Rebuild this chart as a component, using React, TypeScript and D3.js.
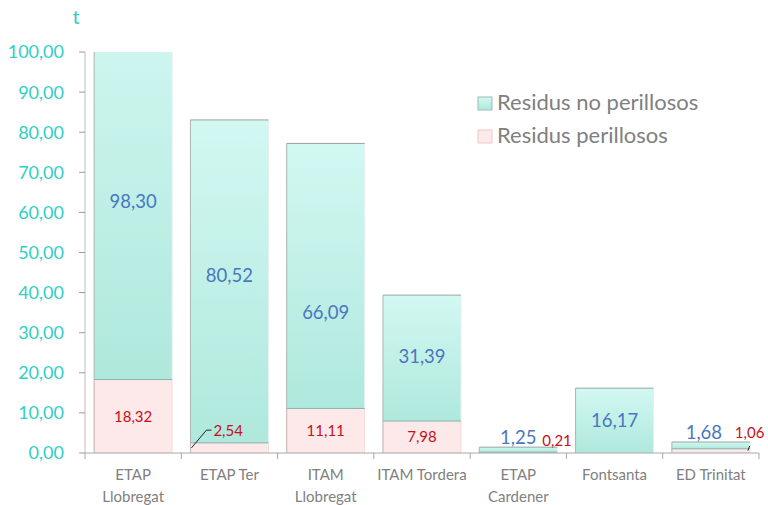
import React from "react";
import * as d3 from "d3";

// chart data
const categories = [
  ["ETAP", "Llobregat"],
  ["ETAP Ter"],
  ["ITAM", "Llobregat"],
  ["ITAM Tordera"],
  ["ETAP", "Cardener"],
  ["Fontsanta"],
  ["ED Trinitat"],
];
const perillosos = [18.32, 2.54, 11.11, 7.98, 0.21, 0, 1.06];
const noPerillosos = [98.3, 80.52, 66.09, 31.39, 1.25, 16.17, 1.68];
const yTicks = [0, 10, 20, 30, 40, 50, 60, 70, 80, 90, 100];
const seriesNames = ["Residus no perillosos", "Residus perillosos"];

// where the value labels sit (data units), as placed in the original
const noPerLabelAt = [62.8, 44.2, 35.2, 24.0, 4.0, 8.1, 5.2];

const W = 768;
const H = 505;
const TEAL = "#2fd0c2";
const GREY = "#808080";
const BLUE = "#4a76c1";
const RED = "#c4101a";

const locale = d3.formatLocale({
  decimal: ",",
  thousands: ".",
  grouping: [3],
  currency: ["", "€"],
});
const fmt = locale.format(".2f");

export default function App() {
  const keys = categories.map((c) => c.join(" "));
  const x = d3
    .scaleBand()
    .domain(keys)
    .range([85, 759])
    .paddingInner(0.19)
    .paddingOuter(0.095);
  const y = d3.scaleLinear().domain([0, 100]).range([453, 52]);

  const rows = keys.map((k, i) => ({
    cat: k,
    per: perillosos[i],
    noper: noPerillosos[i],
  }));
  const stack = d3.stack<any>().keys(["per", "noper"]);
  const series = stack(rows);
  const bw = x.bandwidth();

  return (
    <svg
      width={W}
      height={H}
      style={{ position: "absolute", left: 0, top: 0, background: "#fff" }}
      fontFamily="Lato, 'Open Sans', sans-serif"
    >
      <defs>
        <linearGradient id="teal" x1="0" y1="0" x2="0" y2="1">
          <stop offset="0" stopColor="#d2f8f2" />
          <stop offset="1" stopColor="#afe8dc" />
        </linearGradient>
        <clipPath id="plot">
          <rect x={80} y={y(100)} width={690} height={y(0) - y(100)} />
        </clipPath>
      </defs>

      {/* unit */}
      <text x={76} y={24} fontSize={20} fill={TEAL} textAnchor="middle">
        t
      </text>

      {/* y axis */}
      <line x1={85} x2={85} y1={y(100)} y2={y(0)} stroke="#bdbdbd" />
      {yTicks.map((t) => (
        <g key={t}>
          <line x1={79} x2={85} y1={y(t)} y2={y(t)} stroke="#9a9a9a" />
          <text
            x={64}
            y={y(t)}
            dy="0.36em"
            textAnchor="end"
            fontSize={18}
            fill={TEAL}
          >
            {fmt(t)}
          </text>
        </g>
      ))}

      {/* bars */}
      <g clipPath="url(#plot)">
        {series[0].map((d, i) => {
          const x0 = x(keys[i])!;
          const top = y(d[1]);
          const h = y(d[0]) - top;
          if (perillosos[i] <= 0) return null;
          return (
            <g key={"p" + i}>
              <rect x={x0} y={top} width={bw} height={h} fill="#fde9e9" stroke="#f3d6d6" strokeWidth={0.8} />
              <line x1={x0} x2={x0} y1={top} y2={top + h} stroke="#c9b6b6" />
            </g>
          );
        })}
        {series[1].map((d, i) => {
          const x0 = x(keys[i])!;
          const top = y(d[1]);
          const h = y(d[0]) - top;
          return (
            <g key={"n" + i}>
              <rect x={x0} y={top} width={bw} height={h} fill="url(#teal)" />
              <line x1={x0 + bw} x2={x0 + bw} y1={top} y2={top + h} stroke="#e6f0ee" />
              <line x1={x0} x2={x0} y1={top} y2={top + h} stroke="#a9b5b2" />
              <line x1={x0} x2={x0 + bw} y1={top} y2={top} stroke="#9aa4a2" />
              {d[0] > 0 && (
                <line x1={x0} x2={x0 + bw} y1={y(d[0])} y2={y(d[0])} stroke="#86b4ac" />
              )}
            </g>
          );
        })}
      </g>

      {/* x axis */}
      <line x1={85} x2={759} y1={y(0)} y2={y(0)} stroke="#a8a8a8" />
      {keys.map((k) => (
        <line
          key={k}
          x1={x(k)! - (x.step() - bw) / 2}
          x2={x(k)! - (x.step() - bw) / 2}
          y1={y(0)}
          y2={y(0) + 6}
          stroke="#a8a8a8"
        />
      ))}
      <line x1={759} x2={759} y1={y(0)} y2={y(0) + 6} stroke="#a8a8a8" />
      {categories.map((lines, i) => (
        <text
          key={i}
          x={x(keys[i])! + bw / 2}
          y={480}
          textAnchor="middle"
          fontSize={15}
          fill={GREY}
        >
          {lines.map((l, j) => (
            <tspan key={j} x={x(keys[i])! + bw / 2} dy={j === 0 ? 0 : 22}>
              {l}
            </tspan>
          ))}
        </text>
      ))}

      {/* no perillosos labels */}
      {noPerillosos.map((v, i) => {
        const cx = x(keys[i])! + bw / 2 + (i === 6 ? -7 : 0);
        return (
          <text
            key={"nl" + i}
            x={cx}
            y={y(noPerLabelAt[i])}
            dy="0.36em"
            textAnchor="middle"
            fontSize={18.5}
            fill={BLUE}
          >
            {fmt(v)}
          </text>
        );
      })}

      {/* perillosos labels */}
      {perillosos.map((v, i) => {
        if (v <= 0) return null;
        const cx = x(keys[i])! + bw / 2;
        if (i === 1) {
          return (
            <g key={"pl" + i}>
              <polyline
                points={`${x(keys[i])! + 1},${y(v / 2)} ${cx - 23},${y(5.7)} ${cx - 18},${y(5.7)}`}
                fill="none"
                stroke="#222"
              />
              <text x={cx - 16} y={y(5.5)} dy="0.36em" fontSize={15} fill={RED}>
                {fmt(v)}
              </text>
            </g>
          );
        }
        if (i === 4) {
          return (
            <text key={"pl" + i} x={cx + 24} y={y(3.2)} dy="0.36em" fontSize={15} fill={RED}>
              {fmt(v)}
            </text>
          );
        }
        if (i === 6) {
          const ex = x(keys[i])! + bw;
          return (
            <g key={"pl" + i}>
              <line x1={ex - 2} y1={y(0.6)} x2={ex} y2={y(1.8)} stroke="#222" />
              <text x={ex - 15} y={y(5.0)} dy="0.36em" fontSize={15} fill={RED}>
                {fmt(v)}
              </text>
            </g>
          );
        }
        return (
          <text
            key={"pl" + i}
            x={cx}
            y={y(v / 2)}
            dy="0.36em"
            textAnchor="middle"
            fontSize={15}
            fill={RED}
          >
            {fmt(v)}
          </text>
        );
      })}

      {/* legend */}
      {seriesNames.map((name, i) => (
        <g key={name} transform={`translate(478, ${97 + i * 33})`}>
          <rect
            width={14}
            height={13}
            fill={i === 0 ? "url(#teal)" : "#fde9e9"}
            stroke={i === 0 ? "#9bbcb5" : "#e8cccc"}
          />
          <text x={19} y={13} fontSize={22} fill={GREY}>
            {name}
          </text>
        </g>
      ))}
    </svg>
  );
}
